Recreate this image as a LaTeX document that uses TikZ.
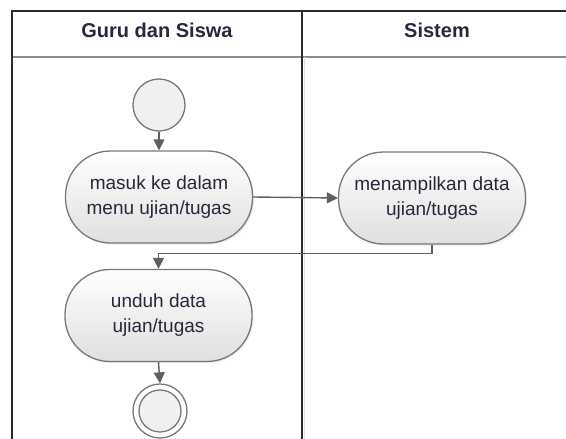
\documentclass[tikz,border=0pt]{standalone}
\usepackage{fontspec}
\setmainfont{Liberation Sans}
\usetikzlibrary{arrows.meta,shadows}
\definecolor{frameC}{RGB}{45,45,45}
\definecolor{headC}{RGB}{140,140,140}
\definecolor{nodeB}{RGB}{120,120,120}
\definecolor{nodeF}{RGB}{240,240,240}
\definecolor{txtC}{RGB}{40,40,60}
\definecolor{arrC}{RGB}{95,95,95}
\tikzset{
  act/.style={draw=nodeB, line width=1.3pt, top color=white, bottom color=nodeF!85!gray,
    rounded corners=45pt, minimum width=187pt, minimum height=92pt,
    align=center, text=txtC, font=\fontsize{19}{25}\selectfont, inner sep=0pt,
    drop shadow={shadow xshift=1.5pt, shadow yshift=-1.5pt, opacity=0.15}},
  startnode/.style={circle, draw=nodeB, line width=1.3pt, fill=nodeF, minimum size=52pt, inner sep=0pt},
  endnode/.style={circle, draw=nodeB, line width=1.3pt, fill=white, minimum size=54pt, inner sep=0pt,
    double=white, double distance=0pt},
  flow/.style={draw=arrC, line width=1.4pt, -{Triangle[length=11pt,width=11pt]}},
  lanehead/.style={font=\fontsize{20}{24}\bfseries\selectfont, text=txtC}
}
\begin{document}
\begin{tikzpicture}[x=1pt,y=-1pt]
\useasboundingbox (0,0) rectangle (566,439);
\clip (0,0) rectangle (566,439);
% swimlane frame
\draw[headC, line width=1.8pt] (12,57) -- (570,57);
\draw[frameC, line width=2pt] (12,445) -- (12,11) -- (570,11);
\draw[frameC, line width=2pt] (302,11) -- (302,445);
\draw[gray!25, line width=1pt] (304.5,57) -- (304.5,445);
\node[lanehead] (h1) at (157,30) {Guru dan Siswa};
\node[lanehead] (h2) at (437,30) {Sistem};
% nodes
\node[startnode] (s) at (159,105) {};
\node[act] (n1) at (159,197) {masuk ke dalam\\menu ujian/tugas};
\node[act] (n2) at (432,198) {menampilkan data\\ujian/tugas};
\node[act] (n3) at (158.5,315.5) {unduh data\\ujian/tugas};
\node[circle, draw=nodeB, line width=1.3pt, fill=white, minimum size=54pt, inner sep=0pt] (e) at (160,411) {};
\node[circle, draw=nodeB, line width=1.3pt, fill=nodeF, minimum size=42pt, inner sep=0pt] (ei) at (e.center) {};
% connectors
\draw[flow] (s.south) -- (n1.north);
\draw[flow] (n1.east) -- (n2.west);
\draw[flow] (n2.south) -- ++(0,9) -| (n3.north);
\draw[flow] (n3.south) -- (e.north);
\end{tikzpicture}
\end{document}
